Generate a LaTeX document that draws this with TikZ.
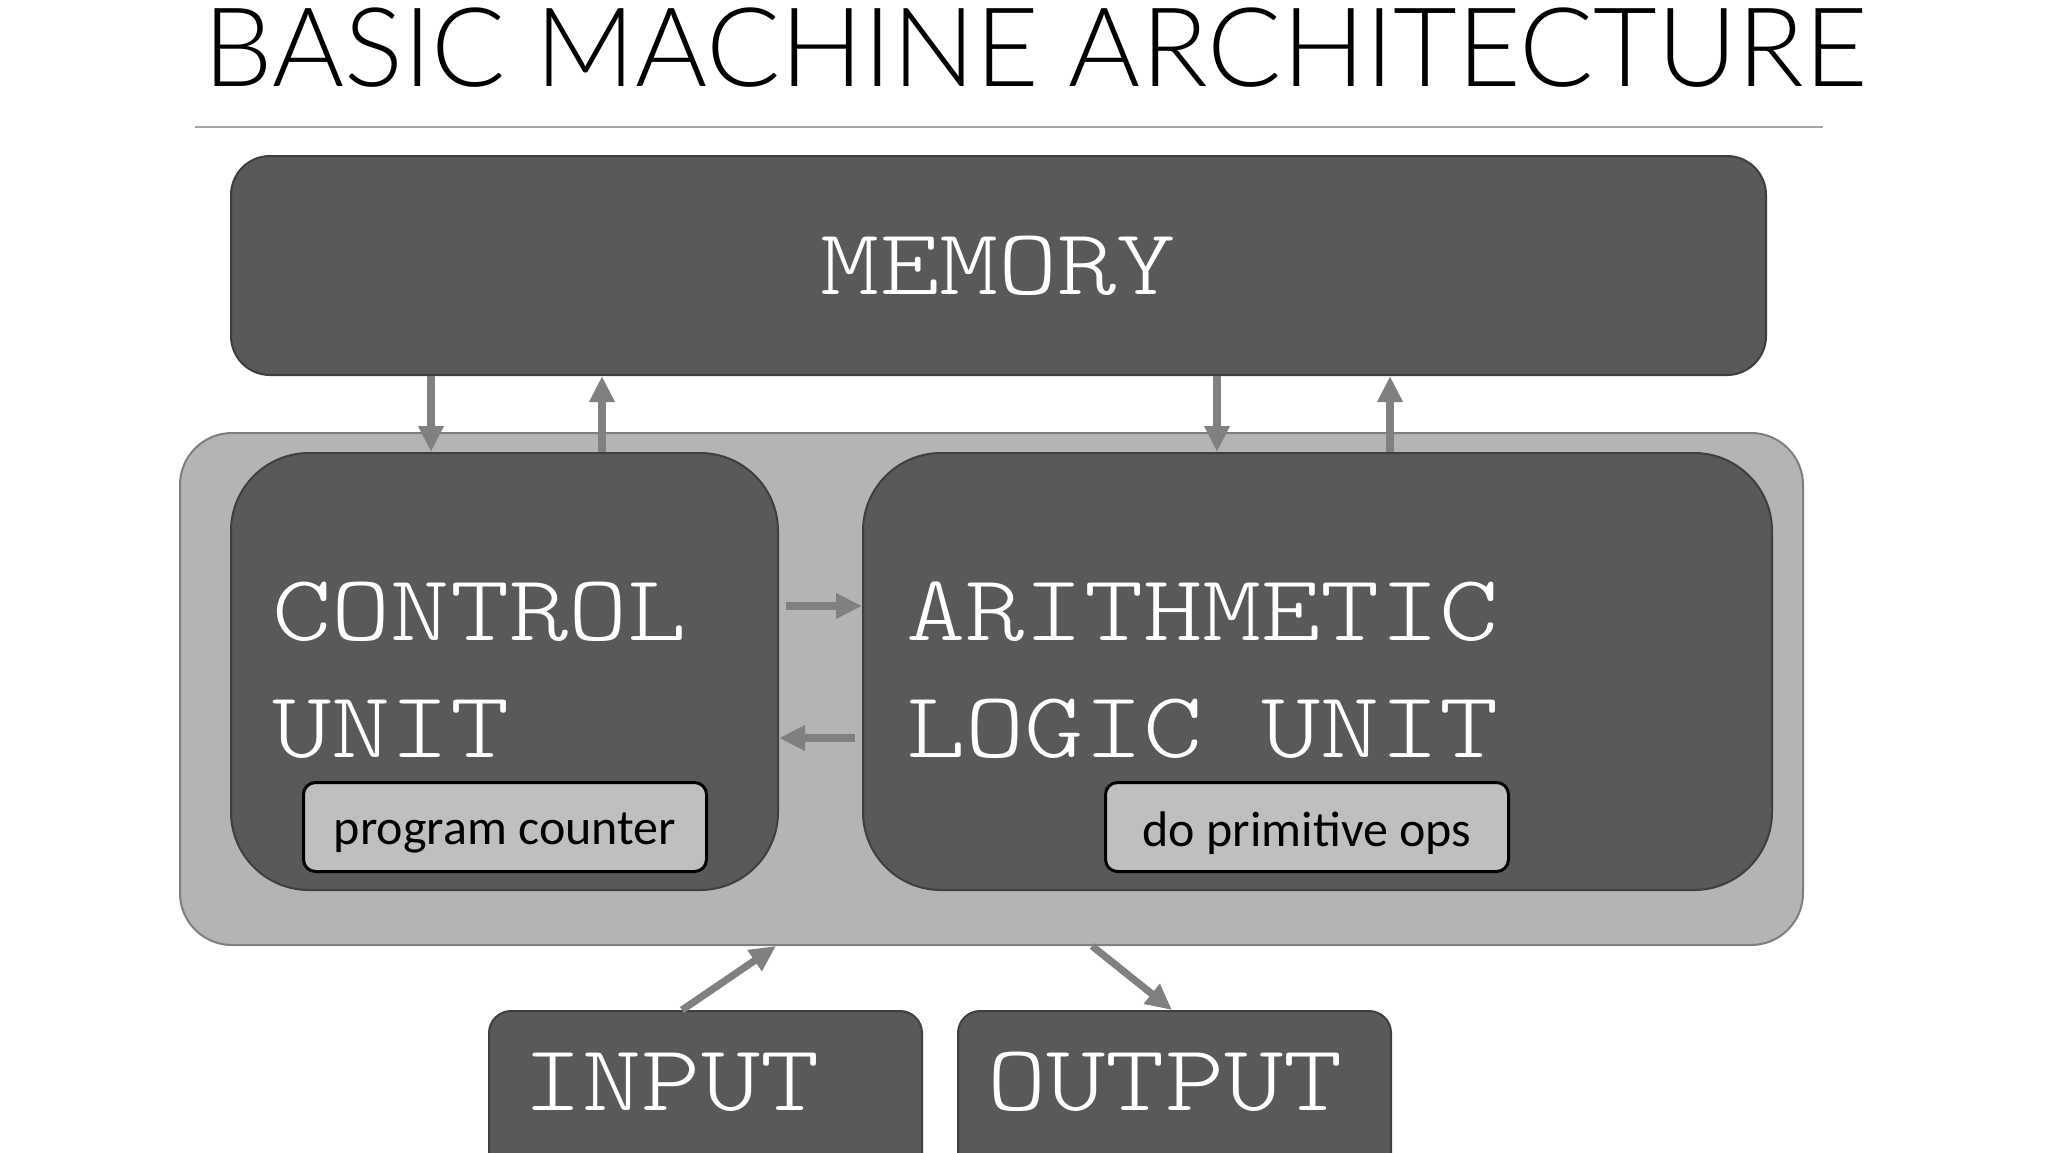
\documentclass[tikz,border=0pt]{standalone}
\usepackage{fontspec}
\usepackage{graphicx}
\setmainfont{Carlito}
\newfontfamily\titlefont{Lato}[UprightFont=* Light]
\usetikzlibrary{arrows.meta,calc}
\definecolor{darkbox}{HTML}{595959}
\definecolor{darkedge}{HTML}{3F3F3F}
\definecolor{cpufill}{HTML}{B4B4B4}
\definecolor{cpuedge}{HTML}{7F7F7F}
\definecolor{lightbox}{HTML}{BFBFBF}
\definecolor{arrowgray}{HTML}{808080}
\definecolor{rulegray}{HTML}{A6A6A6}
\newcommand{\mono}[1]{\scalebox{1.2}[1]{#1}}
\tikzset{
  unitbox/.style={draw=darkedge, fill=darkbox, line width=1pt, anchor=north west, inner sep=0pt},
  cpubox/.style={draw=cpuedge, fill=cpufill, line width=1pt, anchor=north west, inner sep=0pt, rounded corners=26pt},
  smallbox/.style={draw=black, fill=lightbox, line width=1.5pt, anchor=north west, inner sep=0pt, rounded corners=6pt},
  smalltext/.style={text=black, inner sep=0pt, font=\fontsize{25}{25}\selectfont},
  bigtext/.style={text=white, font=\ttfamily\fontseries{l}\fontsize{47}{59}\selectfont, inner sep=0pt},
  arr/.style={draw=arrowgray, line width=3.6pt, -{Triangle[length=13pt,width=12pt]}, arrowgray},
}
\begin{document}
\begin{tikzpicture}[x=0.5pt,y=-0.5pt]
\useasboundingbox (0,0) rectangle (2048,1152);
\clip (0,0) rectangle (2048,1152);
% title
\node[anchor=base west, inner sep=0pt, font=\titlefont\fontsize{55}{55}\selectfont] (title) at (203,86) {BASIC MACHINE ARCHITECTURE};
\draw[rulegray, line width=1pt] (195,127) -- (1823,127);
% memory
\node[unitbox, rounded corners=19.5pt, minimum width=767.5pt, minimum height=109.5pt] (mem) at (230,155) {};
\node[bigtext] (memtext) at (mem.center) {\mono{MEMORY}};
% cpu
\node[cpubox, minimum width=811.5pt, minimum height=256pt] (cpu) at (179,432) {};
\node[unitbox, rounded corners=39pt, minimum width=273.5pt, minimum height=218.5pt] (cu) at (230,452) {};
\node[unitbox, rounded corners=39pt, minimum width=454.5pt, minimum height=218.5pt] (alu) at (862,452) {};
\node[bigtext, anchor=base west] (cu1) at (272,640) {\mono{CONTROL}};
\node[bigtext, anchor=base west] (cu2) at (272,757) {\mono{UNIT}};
\node[bigtext, anchor=base west] (alu1) at (906,640) {\mono{ARITHMETIC}};
\node[bigtext, anchor=base west] (alu2) at (906,757) {\mono{LOGIC UNIT}};
\node[smallbox, minimum width=201.5pt, minimum height=44.5pt] (pc) at (302,781) {};
\node[smalltext] (pctext) at ([yshift=-3pt]pc.center) {program counter};
\node[smallbox, minimum width=201.5pt, minimum height=44.5pt] (ops) at (1104,781) {};
\node[smalltext] (opstext) at ([yshift=-3pt]ops.center) {do primitive ops};
% io
\node[unitbox, rounded corners=11pt, minimum width=216.5pt, minimum height=110pt] (inp) at (488,1010) {};
\node[bigtext, anchor=base west] (inptext) at (523,1110) {\mono{INPUT}};
\node[unitbox, rounded corners=11pt, minimum width=216.5pt, minimum height=110pt] (out) at (957,1010) {};
\node[bigtext, anchor=base west] (outtext) at (987,1110) {\mono{OUTPUT}};
% arrow positions
\coordinate (x1) at (431,0);
\coordinate (x2) at (602,0);
\coordinate (x3) at (1217,0);
\coordinate (x4) at (1390,0);
\coordinate (y1) at (0,606);
\coordinate (y2) at (0,738);
\coordinate (i1) at (682,0);
\coordinate (i2) at (776,0);
\coordinate (o1) at (1092,0);
\coordinate (o2) at (1172,0);
\draw[arr] (mem.south -| x1) -- (cu.north -| x1);
\draw[arr] (cu.north -| x2) -- (mem.south -| x2);
\draw[arr] (mem.south -| x3) -- (alu.north -| x3);
\draw[arr] (alu.north -| x4) -- (mem.south -| x4);
\draw[arr, shorten <=3.5pt] (cu.east |- y1) -- (alu.west |- y1);
\draw[arr, shorten <=3.5pt] (alu.west |- y2) -- (cu.east |- y2);
\draw[arr] (inp.north -| i1) -- (cpu.south -| i2);
\draw[arr] (cpu.south -| o1) -- (out.north -| o2);
\end{tikzpicture}
\end{document}
